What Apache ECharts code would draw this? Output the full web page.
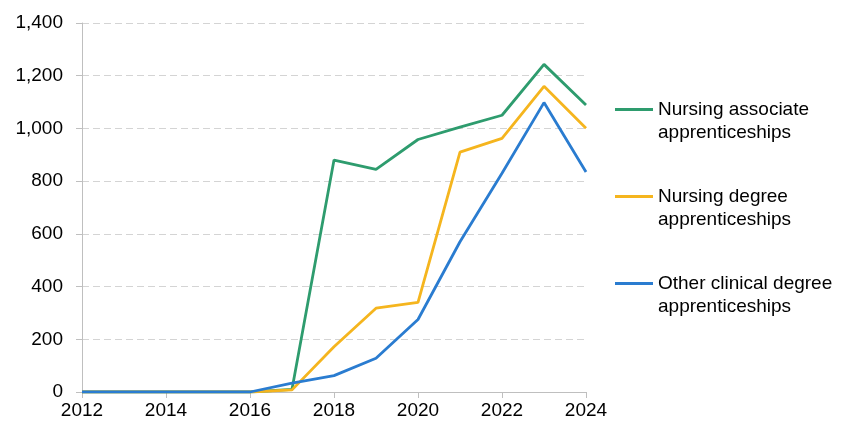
<!DOCTYPE html>
<html>
<head>
<meta charset="utf-8">
<script src="https://cdn.jsdelivr.net/npm/echarts@6/dist/echarts.min.js"></script>
<style>
  html, body { margin: 0; padding: 0; background: #fff; }
  #chart { width: 848px; height: 435px; }
</style>
</head>
<body>
<div id="chart"></div>
<script>
var years = ['2012', '2013', '2014', '2015', '2016', '2017', '2018', '2019', '2020', '2021', '2022', '2023', '2024'];
var nursingAssociate = [0, 0, 0, 0, 0, 10, 880, 845, 958, 1005, 1050, 1243, 1089];
var nursingDegree = [0, 0, 0, 0, 0, 8, 172, 318, 340, 910, 962, 1160, 1001];
var otherClinical = [0, 0, 0, 0, 0, 34, 62, 128, 275, 570, 830, 1098, 835];
var seriesNames = ['Nursing associate\napprenticeships', 'Nursing degree\napprenticeships', 'Other clinical degree\napprenticeships'];
var colors = ['#2E9C6E', '#F5B51E', '#2A7CD0'];

var font = 'Liberation Sans, Arial, sans-serif';

function lineSeries(i, data) {
    return {
        name: seriesNames[i],
        type: 'line',
        data: data,
        showSymbol: false,
        symbol: 'none',
        lineStyle: { color: colors[i], width: 2.8 },
        itemStyle: { color: colors[i] },
        animation: false
    };
}

var option = {
    animation: false,
    grid: { left: 82, right: 262, top: 23, bottom: 43 },
    legend: {
        orient: 'vertical',
        left: 610,
        top: 70,
        itemWidth: 38,
        itemHeight: 3,
        icon: 'rect',
        itemGap: 18,
        selectedMode: false,
        // blank first line so the icon sits level with the first text line
        formatter: function (name) { return ' \n' + name; },
        textStyle: {
            fontFamily: font,
            fontSize: 19,
            lineHeight: 23,
            color: '#000'
        },
        data: seriesNames
    },
    xAxis: {
        type: 'category',
        data: years,
        boundaryGap: false,
        axisLine: { lineStyle: { color: '#bfbfbf', width: 1 } },
        axisTick: { interval: 1, length: 6, lineStyle: { color: '#bfbfbf' } },
        axisLabel: { interval: 1, margin: 9, fontFamily: font, fontSize: 19, color: '#000' },
        splitLine: { show: false }
    },
    yAxis: {
        type: 'value',
        min: 0,
        max: 1400,
        interval: 200,
        axisLine: { show: true, lineStyle: { color: '#bfbfbf', width: 1 } },
        axisTick: { show: true, length: 6, lineStyle: { color: '#bfbfbf' } },
        axisLabel: {
            margin: 19,
            fontFamily: font,
            fontSize: 19,
            color: '#000',
            formatter: function (v) { return v.toLocaleString('en-GB'); }
        },
        splitLine: { lineStyle: { color: '#d4d4d4', type: [7, 4], width: 1 } }
    },
    series: [
        lineSeries(0, nursingAssociate),
        lineSeries(1, nursingDegree),
        lineSeries(2, otherClinical)
    ]
};

var chart = echarts.init(document.getElementById('chart'), null, { renderer: 'canvas' });
chart.setOption(option);
</script>
</body>
</html>
